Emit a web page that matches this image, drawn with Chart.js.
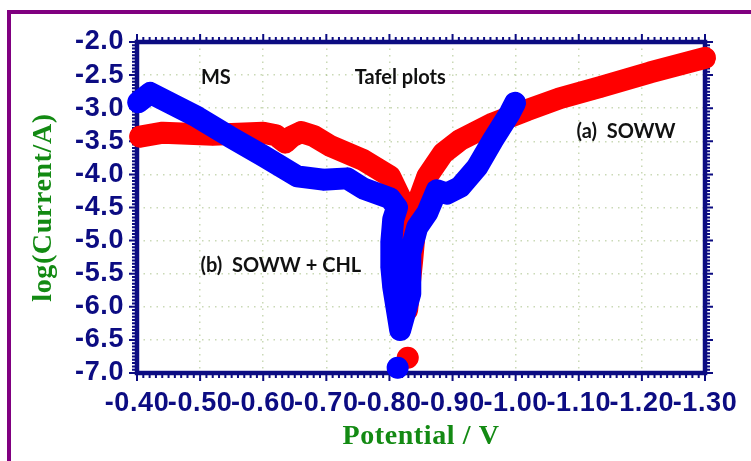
<!DOCTYPE html>
<html>
<head>
<meta charset="utf-8">
<script src="https://cdn.jsdelivr.net/npm/chart.js@4.4.1/dist/chart.umd.min.js"></script>
<style>
  html, body { margin: 0; padding: 0; background: #fff; }
  #wrap { position: relative; width: 751px; height: 461px; }
</style>
</head>
<body>
<div id="wrap"><canvas id="tafelChart"></canvas></div>
<script>
// ========================================
// TAFEL PLOTS - MS in SOWW / SOWW + CHL
// ========================================

// Axis ranges (potential shown as -0.40 ... -1.30 V)
const xMin = -1.30;
const xMax = -0.40;
const yMin = -7.0;
const yMax = -2.0;

// (a) SOWW - red curve (null = break before the stray point)
const redPotential = [-0.405, -0.441, -0.520, -0.600, -0.620, -0.635, -0.645, -0.660, -0.680, -0.706, -0.758, -0.801, -0.817, -0.822, -0.826, -0.828,
  -0.836, -0.844, -0.860, -0.885, -0.912, -0.964, -1.018, -1.070, -1.134, -1.213, -1.300, null, -0.829];
const redLogI = [-3.43, -3.37, -3.40, -3.37, -3.41, -3.52, -3.43, -3.36, -3.42, -3.57, -3.78, -4.03, -4.35, -4.90, -5.50, -6.05,
  -5.30, -4.45, -4.03, -3.68, -3.48, -3.23, -3.03, -2.85, -2.68, -2.46, -2.24, null, -6.77];

// (b) SOWW + CHL - blue curve
const bluePotential = [-0.402, -0.421, -0.495, -0.547, -0.600, -0.654, -0.695, -0.733, -0.758, -0.801, -0.812, -0.806, -0.803, -0.803, -0.806, -0.817,
  -0.833, -0.833, -0.844, -0.860, -0.875, -0.891, -0.912, -0.939, -0.964, -0.991, -0.999, null, -0.813];
const blueLogI = [-2.91, -2.77, -3.13, -3.43, -3.72, -4.03, -4.08, -4.06, -4.21, -4.36, -4.50, -4.68, -5.02, -5.40, -5.70, -6.35,
  -5.80, -5.19, -4.80, -4.58, -4.24, -4.29, -4.19, -3.89, -3.48, -3.07, -2.92, null, -6.92];

// Text labels placed in data units
const notes = [
  { text: 'MS', x: -0.525, y: -2.53 },
  { text: 'Tafel plots', x: -0.817, y: -2.53 },
  { text: '(a)  SOWW', x: -1.175, y: -3.36 },
  { text: '(b)  SOWW + CHL', x: -0.628, y: -5.37 }
];

const NAVY = '#0c0c82';
const GREEN = '#138a13';
const PURPLE = '#800080';

function toPoints(xs, ys) {
  return xs.map((x, i) => ({ x: x, y: ys[i] }));
}

// Outer purple frame (+ slightly wider lettering for axis text)
const framePlugin = {
  id: 'framePlugin',
  beforeDraw(chart) {
    const ctx = chart.ctx;
    ctx.save();
    ctx.fillStyle = PURPLE;
    ctx.fillRect(7, 10, 4, chart.height - 10);
    ctx.fillRect(7, 10, chart.width - 7, 4);
    ctx.restore();
    ctx.letterSpacing = '0.6px';
  }
};

// Box axes with major + minor ticks on all four sides
const boxAxesPlugin = {
  id: 'boxAxesPlugin',
  beforeDatasetsDraw(chart) {
    const { ctx, chartArea: a, scales: { x, y } } = chart;
    ctx.letterSpacing = '0px';
    ctx.save();
    ctx.strokeStyle = NAVY;
    ctx.lineWidth = 2;
    ctx.beginPath();
    for (let i = 0; i <= 90; i++) {
      const px = x.getPixelForValue(xMin + i * 0.01);
      const len = i % 10 === 0 ? 8 : 5;
      ctx.moveTo(px, a.bottom); ctx.lineTo(px, a.bottom + len);
      ctx.moveTo(px, a.top); ctx.lineTo(px, a.top - len);
    }
    for (let i = 0; i <= 100; i++) {
      const py = y.getPixelForValue(yMin + i * 0.05);
      const len = i % 10 === 0 ? 8 : 5;
      ctx.moveTo(a.left, py); ctx.lineTo(a.left - len, py);
      ctx.moveTo(a.right, py); ctx.lineTo(a.right + len, py);
    }
    ctx.stroke();
    ctx.lineWidth = 4.5;
    ctx.strokeRect(a.left, a.top, a.right - a.left, a.bottom - a.top);
    ctx.restore();
  }
};

// Curve labels
const notesPlugin = {
  id: 'notesPlugin',
  afterDatasetsDraw(chart) {
    const { ctx, scales: { x, y } } = chart;
    ctx.save();
    ctx.fillStyle = '#111';
    ctx.font = 'bold 20px Lato';
    ctx.textAlign = 'center';
    ctx.textBaseline = 'middle';
    notes.forEach(n => {
      ctx.fillText(n.text, x.getPixelForValue(n.x), y.getPixelForValue(n.y));
    });
    ctx.restore();
  }
};

new Chart(document.getElementById('tafelChart'), {
  type: 'scatter',
  data: {
    datasets: [
      {
        label: '(a) SOWW',
        data: toPoints(redPotential, redLogI),
        borderColor: '#ff0000',
        backgroundColor: '#ff0000',
        order: 2
      },
      {
        label: '(b) SOWW + CHL',
        data: toPoints(bluePotential, blueLogI),
        borderColor: '#0000ff',
        backgroundColor: '#0000ff',
        order: 1
      }
    ]
  },
  options: {
    responsive: true,
    maintainAspectRatio: false,
    animation: false,
    layout: { padding: { top: 42, right: 46, left: 0, bottom: 0 } },
    datasets: {
      scatter: {
        showLine: true,
        spanGaps: false,
        borderWidth: 22,
        borderCapStyle: 'round',
        borderJoinStyle: 'round',
        pointRadius: 10.5,
        pointBorderWidth: 0,
        clip: false
      }
    },
    plugins: {
      legend: { display: false },
      tooltip: { enabled: false }
    },
    scales: {
      x: {
        type: 'linear',
        reverse: true,
        min: xMin,
        max: xMax,
        afterFit: (scale) => { scale.height = 88; },
        border: { display: false, dash: [1.5, 5] },
        grid: { color: 'rgba(150, 180, 110, 0.5)', lineWidth: 1.5, drawTicks: false },
        ticks: {
          stepSize: 0.1,
          autoSkip: false,
          maxRotation: 0,
          padding: 14,
          color: NAVY,
          font: { family: '"Liberation Sans", Arial, sans-serif', size: 27, weight: 'bold' },
          callback: (v) => Number(v).toFixed(2)
        },
        title: {
          display: true,
          text: 'Potential / V',
          color: GREEN,
          padding: { top: 0, bottom: 7 },
          font: { family: '"Liberation Serif", "Times New Roman", serif', size: 28, weight: 'bold' }
        }
      },
      y: {
        min: yMin,
        max: yMax,
        afterFit: (scale) => { scale.width = 137; },
        border: { display: false, dash: [1.5, 5] },
        grid: { color: 'rgba(150, 180, 110, 0.5)', lineWidth: 1.5, drawTicks: false },
        ticks: {
          stepSize: 0.5,
          autoSkip: false,
          padding: 13,
          color: NAVY,
          font: { family: '"Liberation Sans", Arial, sans-serif', size: 27, weight: 'bold' },
          callback: (v) => Number(v).toFixed(1)
        },
        title: {
          display: true,
          text: 'log(Current/A)',
          color: GREEN,
          padding: { top: 27, bottom: 0 },
          font: { family: '"Liberation Serif", "Times New Roman", serif', size: 28, weight: 'bold' }
        }
      }
    }
  },
  plugins: [framePlugin, boxAxesPlugin, notesPlugin]
});
</script>
</body>
</html>
